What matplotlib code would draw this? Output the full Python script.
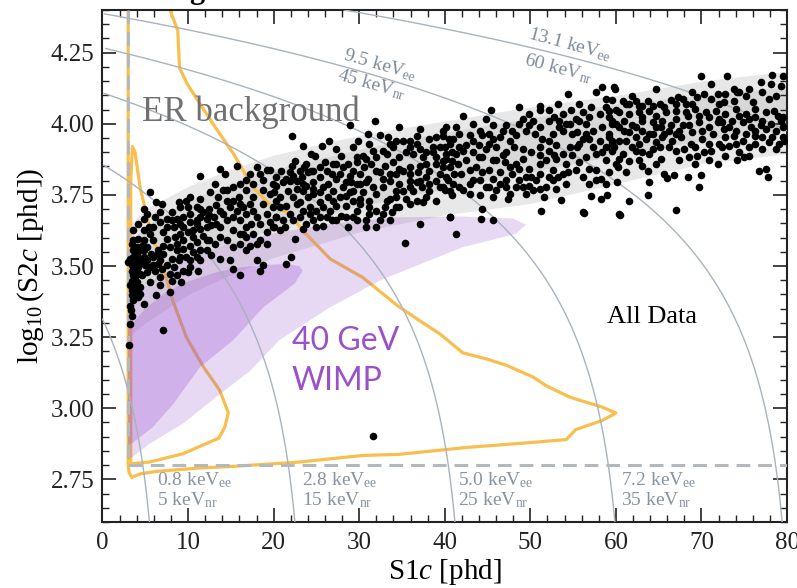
import numpy as np
import matplotlib
matplotlib.use("Agg")
import matplotlib.pyplot as plt
from matplotlib.ticker import MultipleLocator

plt.rcParams['font.family'] = ['Liberation Serif', 'DejaVu Serif']
plt.rcParams['mathtext.fontset'] = 'custom'
plt.rcParams['mathtext.rm'] = 'Liberation Serif'
plt.rcParams['mathtext.it'] = 'Liberation Serif:italic'
plt.rcParams['mathtext.bf'] = 'Liberation Serif:bold'

# ---------------- data ----------------
# energy contours (keVee / keVnr) and detector conversion (phd per keV)
energy_ee = [0.8, 2.8, 5.0, 7.2, 9.5, 13.1]
energy_nr = [5, 15, 25, 35, 45, 60]
g1_per_keV = 8.5      # S1 phd per keV
g2_per_keV = 2570.0   # S2 phd per keV

# ER background band (S1c, log10 S2c)
er_s1 = [3, 5, 10, 15, 20, 30, 40, 50, 60, 70, 80]
er_outer_hi = [3.64, 3.70, 3.78, 3.84, 3.89, 3.96, 4.01, 4.06, 4.10, 4.15, 4.185]
er_outer_lo = [3.25, 3.30, 3.40, 3.47, 3.53, 3.62, 3.68, 3.72, 3.79, 3.86, 3.895]
er_inner_hi = [3.58, 3.64, 3.73, 3.79, 3.84, 3.91, 3.97, 4.02, 4.07, 4.10, 4.13]
er_inner_lo = [3.38, 3.43, 3.52, 3.58, 3.63, 3.71, 3.77, 3.83, 3.89, 3.94, 3.98]

# 40 GeV WIMP regions (outline S1c, log10 S2c)
wimp_outer_s1 = [3.0, 6, 10, 15, 20, 26.6, 34.3, 42, 48, 49.5,
                 48.3, 42.1, 38.2, 32.4, 26.6, 20.7, 17.2, 13.3, 9.4, 5.5, 3.6, 3.0]
wimp_outer_s2 = [3.38, 3.45, 3.52, 3.58, 3.615, 3.648, 3.671, 3.674, 3.667, 3.645,
                 3.613, 3.566, 3.519, 3.449, 3.355, 3.24, 3.13, 3.04, 2.946, 2.875, 2.83, 2.82]
wimp_inner_s1 = [3.0, 5, 7.5, 10, 13.3, 16, 18.8, 21.5, 23.0, 23.4,
                 22.5, 21.9, 18.8, 15.3, 11.4, 8.3, 5.9, 3.6, 3.0]
wimp_inner_s2 = [3.28, 3.35, 3.41, 3.445, 3.478, 3.495, 3.503, 3.507, 3.50, 3.484,
                 3.44, 3.425, 3.355, 3.24, 3.145, 3.016, 2.934, 2.88, 2.87]

# yellow contour (outer and inner traces)
yel_outer_s1 = [3.0, 3.0, 3.1, 3.4, 4.5, 6.3, 11.4, 14.9, 22.7, 30.4, 34.7, 42.5, 50.3, 54.2,
                55.3, 58.4, 60.0, 58.4, 54.6, 51.8, 50.3, 47.2, 44.8, 42.1, 39.4, 37.0,
                34.5, 30.4, 26.6, 23.4, 21.9, 19.4, 17.6, 15.3, 12.9, 11.4, 9.9, 9.0, 8.8, 7.9]
yel_outer_s2 = [4.40, 2.80, 2.775, 2.757, 2.77, 2.778, 2.79, 2.795, 2.81, 2.834, 2.838, 2.862, 2.88, 2.89,
                2.925, 2.957, 2.983, 3.004, 3.039, 3.08, 3.11, 3.151, 3.174, 3.195, 3.262, 3.309,
                3.36, 3.46, 3.525, 3.625, 3.683, 3.72, 3.776, 3.895, 4.0, 4.07, 4.14, 4.197, 4.327, 4.40]
yel_inner_s1 = [3.3, 3.3, 3.5, 3.8, 4.4, 5.5, 7.1, 8.2, 9.8, 11.8, 13.7, 14.7, 14.3, 13.6,
                9.4, 5.5, 3.4, 3.3]
yel_inner_s2 = [2.81, 3.80, 3.92, 3.90, 3.776, 3.635, 3.495, 3.38, 3.25, 3.145, 3.063, 2.985, 2.934, 2.895,
                2.84, 2.811, 2.805, 2.81]

# analysis thresholds
s1_threshold = 3.0
log_s2_threshold = 2.8

# observed events (S1c [phd], log10 S2c [phd])
events = [
    (11.4,3.818),(13.7,3.842),(15.7,3.853),(14.3,3.824),(13.1,3.789),(14.5,3.766),(5.5,3.760),(6.3,3.724),
    (6.9,3.719),(4.8,3.701),(6.7,3.689),(5.2,3.684),(8.1,3.689),(9.0,3.707),(10.0,3.707),(10.2,3.742),
    (11.4,3.736),(12.4,3.701),(13.3,3.713),(12.5,3.678),(11.4,3.672),(9.4,3.672),(8.7,3.666),(8.1,3.660),
    (6.1,3.672),(5.4,3.637),(5.5,3.613),(4.2,3.596),(4.8,3.590),(3.6,3.625),(7.1,3.619),(5.9,3.590),
    (7.5,3.596),(8.5,3.602),(9.0,3.613),(10.0,3.619),(10.6,3.625),(11.4,3.631),(12.2,3.637),(12.7,3.643),
    (13.3,3.648),(11.8,3.607),(12.5,3.590),(11.0,3.584),(10.2,3.572),(9.4,3.561),(8.7,3.555),(7.9,3.566),
    (7.1,3.572),(6.5,3.555),(5.2,3.566),(4.4,3.555),(3.8,3.537),(3.2,3.525),(3.0,3.514),(3.6,3.502),
    (4.2,3.496),(5.0,3.502),(5.5,3.496),(6.5,3.508),(6.9,3.490),(7.5,3.502),(6.1,3.484),(5.2,3.479),
    (4.4,3.473),(3.8,3.461),(3.4,3.449),(3.2,3.432),(3.6,3.426),(4.0,3.414),(4.4,3.402),(3.4,3.397),
    (3.6,3.379),(3.2,3.361),(3.3,3.344),(3.4,3.326),(3.2,3.297),(3.1,3.221),(7.1,3.274),(7.9,3.408),
    (6.3,3.397),(6.7,3.432),(8.1,3.449),(9.2,3.443),(10.0,3.479),(11.2,3.484),(12.7,3.537),(13.7,3.525),
    (14.9,3.520),(15.3,3.490),(16.1,3.467),(18.0,3.520),(18.8,3.502),(18.4,3.484),(15.3,3.566),(16.1,3.578),
    (14.5,3.590),(13.7,3.602),(15.3,3.625),(16.1,3.613),(16.8,3.602),(17.6,3.613),(18.4,3.590),(19.2,3.619),
    (19.9,3.637),(13.7,3.637),(14.5,3.660),(15.3,3.672),(15.7,3.695),(16.4,3.707),(17.2,3.719),(14.5,3.730),
    (15.3,3.730),(16.0,3.742),(16.8,3.766),(17.6,3.789),(18.4,3.824),(19.2,3.836),(19.9,3.789),(20.3,3.730),
    (19.2,3.684),(19.6,3.654),(20.3,3.672),(18.0,3.672),(17.4,3.648),(16.8,3.637),(13.1,3.578),(9.0,3.531),
    (10.2,3.520),(11.4,3.555),(10.6,3.549),(8.1,3.525),(5.9,3.531),(6.5,3.543),(4.8,3.531),(3.6,3.555),
    (3.4,3.484),(4.0,3.543),(4.6,3.572),(3.6,3.590),(4.0,3.520),(4.6,3.514),(5.9,3.502),(3.8,3.443),
    (4.2,3.391),(4.8,3.367),(6.7,3.461),(7.9,3.473),(8.7,3.467),(9.4,3.484),(10.2,3.496),(11.4,3.520),
    (9.4,3.637),(10.2,3.654),(11.0,3.660),(12.2,3.666),(8.9,3.724),(9.8,3.730),(11.0,3.707),(11.8,3.689),
    (13.7,3.695),(12.6,3.760),(13.5,3.742),(16.8,3.801),(17.6,3.742),(18.8,3.766),(19.6,3.754),(18.8,3.719),
    (19.9,3.707),(16.8,3.684),(16.1,3.660),(18.4,3.648),(19.2,3.578),(17.2,3.572),
    (3.4,3.578),(4.0,3.566),(4.8,3.555),(3.6,3.531),(4.2,3.525),(5.2,3.520),(3.4,3.502),(4.0,3.484),
    (4.6,3.467),(3.6,3.467),(4.0,3.443),(3.4,3.414),(3.8,3.402),(4.4,3.426),(5.5,3.443),(5.7,3.543),
    (7.1,3.543),(6.7,3.520),(8.3,3.496),(8.9,3.520),(9.8,3.531),(11.0,3.531),(12.2,3.555),(12.2,3.590),
    (10.6,3.602),(9.4,3.590),(8.7,3.578),(7.5,3.637),(8.3,3.637),(6.7,3.654),(5.9,3.637),(4.8,3.625),
    (4.2,3.648),(4.8,3.666),(7.5,3.666),(9.0,3.648),(11.0,3.648),(10.2,3.684),(11.4,3.701),(13.0,3.672),
    (14.1,3.684),(14.9,3.707),(16.1,3.719),(14.1,3.766),(15.3,3.777),(16.1,3.789),(17.2,3.824),(18.0,3.847),
    (19.6,3.836),(18.8,3.801),(17.6,3.695),(16.4,3.613),(18.0,3.578),(16.8,3.555),
    (22.2,3.958),(28.9,3.997),(31.8,4.011),(34.7,3.988),(37.1,3.982),(40.2,3.988),(31.0,3.964),(32.4,3.962),
    (33.4,3.955),(35.9,3.941),(36.7,3.929),(38.2,3.947),(39.0,3.952),(39.8,3.958),(41.0,3.947),(25.6,3.923),
    (26.5,3.941),(27.3,3.911),(29.3,3.917),(29.9,3.941),(31.2,3.929),(31.6,3.906),(30.5,3.888),(24.4,3.894),
    (24.8,3.888),(23.6,3.847),(24.0,3.830),(24.6,3.835),(26.0,3.865),(26.2,3.835),(26.8,3.824),(27.7,3.824),
    (28.7,3.859),(28.9,3.818),(22.1,3.853),(20.9,3.835),(21.1,3.794),(21.9,3.800),(20.3,3.783),(20.0,3.759),
    (21.7,3.765),(22.7,3.771),(23.4,3.765),(24.0,3.742),(24.6,3.753),(25.4,3.759),(26.4,3.789),(27.3,3.806),
    (28.1,3.777),(29.1,3.794),(30.1,3.789),(31.0,3.806),(32.0,3.835),(33.0,3.853),(33.9,3.865),(34.7,3.882),
    (35.5,3.900),(36.3,3.894),(37.5,3.882),(38.6,3.900),(39.8,3.870),(40.6,3.847),(41.3,3.894),(41.0,3.789),
    (39.8,3.777),(39.0,3.800),(37.8,3.812),(36.9,3.830),(35.9,3.800),(35.1,3.765),(34.3,3.742),(35.5,3.736),
    (36.7,3.730),(37.5,3.724),(39.0,3.730),(40.6,3.671),(41.3,3.613),(37.1,3.648),(35.3,3.580),(32.4,3.660),
    (32.8,3.683),(31.2,3.683),(30.8,3.660),(29.7,3.695),(30.1,3.718),(29.3,3.730),(28.5,3.712),(27.3,3.712),
    (26.6,3.695),(26.2,3.671),(26.8,3.660),(25.8,3.642),(25.0,3.636),(24.6,3.660),(23.8,3.648),(23.4,3.630),
    (22.5,3.595),(22.0,3.533),(21.4,3.508),(28.7,3.636),(30.8,3.636),(33.0,3.707),(33.6,3.736),(32.0,3.753),
    (31.2,3.730),(32.8,3.777),(33.6,3.800),(34.3,3.824),(35.1,3.835),(33.2,3.894),(33.9,3.917),(34.3,3.941),
    (37.8,3.859),(39.0,3.859),(40.2,3.812),(38.2,3.765),(37.3,3.777),(36.3,3.765),(25.4,3.724),(25.0,3.695),
    (23.4,3.695),(22.7,3.718),(21.5,3.712),(20.7,3.707),(20.3,3.671),(21.1,3.660),(21.9,3.683),(20.1,3.636),
    (21.3,3.636),(23.1,3.671),(23.8,3.783),(24.6,3.794),(25.4,3.812),(23.3,3.812),(22.3,3.818),(22.5,3.870),
    (23.4,3.923),(24.4,3.835),(27.3,3.859),(27.9,3.888),(29.7,3.882),(30.6,3.847),(31.4,3.859),(32.4,3.830),
    (30.1,3.824),(29.3,3.765),(30.5,3.759),(28.5,3.747),(26.4,3.742),(27.9,3.677),(29.3,3.671),(33.8,3.689),
    (34.3,3.707),(36.7,3.794),(38.2,3.835),(39.4,3.824),(40.8,3.870),(35.9,3.847),(34.7,3.789),(38.6,3.917),
    (36.7,3.958),
    (20.3,3.812),(21.5,3.806),(20.7,3.742),(22.3,3.742),(23.1,3.724),(24.2,3.707),(25.8,3.707),(26.9,3.730),
    (27.7,3.742),(26.9,3.765),(25.8,3.777),(24.6,3.771),(23.4,3.789),(22.7,3.800),(21.9,3.830),(23.1,3.835),
    (23.8,3.859),(25.4,3.847),(26.9,3.859),(28.1,3.847),(29.3,3.835),(29.7,3.865),(30.8,3.876),(32.0,3.882),
    (32.8,3.906),(33.6,3.929),(35.1,3.941),(35.9,3.917),(37.1,3.911),(37.8,3.900),(39.4,3.917),(40.6,3.929),
    (40.2,3.894),(39.0,3.882),(37.1,3.853),(35.9,3.824),(34.7,3.841),(33.6,3.824),(32.8,3.806),(31.6,3.777),
    (30.8,3.794),(29.7,3.789),(28.5,3.794),(28.9,3.759),(30.1,3.736),(31.2,3.707),(32.0,3.695),(33.2,3.730),
    (34.3,3.765),(35.9,3.777),(37.1,3.800),(38.2,3.789),(39.4,3.777),(40.6,3.765),(37.8,3.742),(35.9,3.718),
    (34.7,3.707),(33.6,3.660),(32.0,3.636),(29.7,3.660),(28.5,3.671),(27.3,3.660),(25.4,3.671),(24.2,3.683),
    (22.3,3.660),(20.7,3.625),
    (42.1,4.029),(45.4,4.047),(48.7,4.058),(49.9,4.035),(51.1,4.064),(51.1,4.047),(53.2,4.070),(54.4,4.105),
    (55.7,4.070),(57.7,4.111),(58.4,4.129),(59.8,4.129),(58.8,4.088),(43.3,3.999),(44.8,4.017),(45.6,3.994),
    (47.2,3.994),(48.7,4.000),(49.9,3.994),(51.1,3.988),(52.2,4.011),(52.8,4.023),(53.8,4.035),(54.8,4.047),
    (56.1,4.041),(57.1,4.058),(58.1,4.035),(59.2,4.023),(60.0,4.047),(41.7,3.965),(42.9,3.959),(44.1,3.976),
    (45.2,3.965),(46.4,3.953),(47.6,3.941),(48.3,3.959),(49.5,3.976),(50.5,3.965),(51.4,3.947),(52.6,3.965),
    (53.4,3.988),(54.6,4.000),(55.3,4.017),(56.5,4.000),(57.3,3.976),(58.4,3.988),(59.6,4.000),(59.2,3.953),
    (58.1,3.941),(56.9,3.947),(55.7,3.930),(54.6,3.918),(53.8,3.894),(53.0,3.877),(52.2,3.906),(51.1,3.918),
    (50.1,3.900),(49.1,3.912),(48.1,3.918),(47.2,3.900),(46.0,3.918),(44.8,3.912),(44.0,3.883),(43.3,3.900),
    (42.5,3.871),(41.5,3.859),(42.9,3.836),(43.3,3.801),(44.4,3.830),(45.6,3.807),(46.4,3.789),(47.2,3.801),
    (47.9,3.824),(48.7,3.801),(49.9,3.842),(51.1,3.859),(51.8,3.871),(52.8,3.889),(54.2,3.859),(55.3,3.836),
    (54.4,3.830),(54.2,3.789),(53.0,3.771),(51.8,3.777),(51.1,3.771),(49.9,3.783),(49.1,3.777),(47.6,3.754),
    (47.4,3.736),(45.6,3.742),(44.1,3.748),(42.9,3.754),(41.7,3.777),(44.4,3.701),(44.2,3.666),(45.6,3.660),
    (51.2,3.695),(51.6,3.742),(53.6,3.733),(56.1,3.690),(57.1,3.745),(58.3,3.736),(59.0,3.748),(56.5,3.883),
    (57.7,3.894),(58.8,3.918),(59.6,3.906),(57.7,3.836),(58.3,3.807),(59.2,3.830),(55.5,3.918),(56.5,3.965),
    (55.5,3.971),(52.2,4.047),(53.8,3.976),(49.1,3.877),(48.3,3.859),(47.0,3.865),(46.0,3.871),(45.2,3.836),
    (43.7,3.848),(41.7,3.918),(41.3,3.988),(52.6,3.836),(51.1,3.824),(50.1,3.813),(53.2,3.813),(45.2,3.777),
    (48.3,3.777),(56.3,3.688),(60.4,3.684),(40.6,3.674),
    (39.8,3.976),(40.5,3.947),(40.0,3.918),(40.9,3.900),(40.2,3.877),(39.8,3.848),(41.1,3.824),(40.4,3.801),
    (40.0,3.766),(40.9,3.748),(42.1,3.766),(44.0,3.924),(45.2,3.930),(44.4,3.883),(45.6,3.871),(46.8,3.889),
    (47.6,3.848),(46.4,3.830),(48.7,3.842),(49.5,3.812),(50.7,3.801),(52.2,3.812),(51.1,3.889),(52.2,3.941),
    (53.0,3.924),(54.9,3.965),(56.1,3.947),(57.3,3.918),(58.4,3.900),(59.6,3.941),(58.8,3.871),(56.9,3.842),
    (55.7,3.865),(54.9,3.889),(54.2,4.000),(53.4,4.011),(55.7,4.011),(56.9,4.023),(58.8,4.058),(59.6,4.082),
    (50.3,4.011),(49.1,4.017),(47.9,3.976),(46.8,3.976),(45.6,3.947),(44.4,3.959),(43.3,3.941),(42.5,3.924),
    (42.1,3.906),(41.9,3.824),(42.9,3.789),(44.1,3.801),(44.8,3.777),(46.0,3.766),(47.2,3.777),(49.5,3.754),
    (50.3,3.766),(52.6,3.801),(53.8,3.824),(56.1,3.812),(56.9,3.789),(57.7,3.801),(58.8,3.789),(60.0,3.859),
    (59.9,4.122),(61.9,4.099),(64.7,4.122),(69.9,4.169),(73.0,4.167),(78.3,4.171),(79.5,4.169),(71.1,4.140),
    (73.8,4.122),(76.9,4.146),(78.1,4.140),(61.2,4.070),(62.3,4.081),(63.1,4.064),(63.7,4.081),(65.1,4.070),
    (65.6,4.058),(66.4,4.084),(67.2,4.095),(67.8,4.087),(68.9,4.111),(69.5,4.093),(70.3,4.105),(71.1,4.087),
    (72.1,4.070),(72.6,4.075),(73.8,4.081),(74.4,4.111),(75.2,4.099),(75.6,4.122),(76.0,4.075),(77.1,4.111),
    (77.9,4.087),(78.7,4.099),(79.3,4.134),(60.4,4.040),(61.5,4.034),(62.7,4.040),(63.9,4.046),(64.7,4.029),
    (65.8,4.040),(67.0,4.046),(68.2,4.040),(69.3,4.052),(70.5,4.040),(71.7,4.046),(72.8,4.034),(74.0,4.052),
    (75.2,4.034),(76.3,4.023),(77.5,4.040),(78.5,4.046),(79.5,4.023),(60.0,3.999),(61.0,4.011),(61.9,3.994),
    (63.1,3.976),(64.3,4.005),(65.3,3.988),(66.4,3.994),(67.4,3.976),(68.6,3.994),(69.7,4.005),(70.9,3.988),
    (71.9,4.005),(72.6,3.982),(73.6,4.011),(74.8,4.005),(75.8,3.988),(76.9,3.994),(78.1,3.999),(79.3,4.011),
    (79.5,3.952),(78.3,3.952),(77.1,3.952),(76.3,3.958),(74.8,3.941),(73.8,3.958),(72.8,3.952),(72.1,3.929),
    (71.1,3.906),(70.1,3.947),(68.8,3.929),(67.6,3.952),(66.6,3.941),(65.6,3.964),(64.7,3.935),(63.5,3.947),
    (62.3,3.952),(61.2,3.941),(59.8,3.917),(60.8,3.894),(61.9,3.917),(63.1,3.900),(64.3,3.911),(65.3,3.876),
    (66.2,3.917),(68.6,3.882),(69.5,3.888),(70.3,3.900),(71.9,3.859),(74.4,3.900),(75.0,3.882),(75.6,3.917),
    (61.5,3.870),(63.1,3.853),(63.7,3.835),(60.2,3.847),(65.6,3.824),(66.0,3.810),(66.8,3.821),(68.4,3.812),
    (69.9,3.821),(69.7,3.777),(63.9,3.794),(60.1,3.794),(61.5,3.730),(63.7,3.751),(67.0,3.697),(60.5,3.681),
    (76.7,3.833),(77.5,3.841),(77.8,3.814),(74.1,3.873),(74.2,4.111),(76.3,4.052),(72.8,4.105),(71.9,4.105),
    (68.4,4.029),(67.0,4.017),(65.4,4.011),(63.1,4.011),(61.5,3.970),(64.3,3.964),(62.7,3.929),(68.0,3.911),
    (73.2,3.923),(77.1,3.911),(78.7,3.911),(79.6,3.941),
    (59.2,4.046),(59.6,4.011),(60.4,3.988),(59.2,3.964),(59.6,3.929),(60.4,3.941),(61.0,3.976),(62.3,3.988),
    (63.1,4.023),(63.9,3.964),(64.7,3.988),(65.4,3.952),(66.2,3.976),(67.0,3.964),(67.8,3.994),(68.9,3.970),
    (70.1,3.976),(71.3,3.964),(72.4,4.005),(73.2,3.988),(74.0,3.976),(75.2,3.964),(76.3,3.976),(77.5,3.982),
    (78.7,3.976),(79.5,3.988),(78.9,4.029),(77.1,4.011),(75.6,4.017),(74.4,4.029),(72.1,4.017),(70.9,4.023),
    (69.7,4.029),(68.9,4.070),(68.2,4.070),(67.0,4.070),(64.3,4.064),(62.7,4.064),(61.5,4.070),(60.8,4.081),
    (62.3,3.906),(63.9,3.894),(65.1,3.917),(67.0,3.906),(69.3,3.917),(70.9,3.929),(72.4,3.917),(74.0,3.929),
    (76.3,3.929),(77.9,3.935),(79.1,3.929),(62.7,3.871),(64.7,3.859),(67.4,3.871),(69.3,3.859),(70.9,3.871),
    (72.8,3.888),(75.6,3.888),(60.4,3.876),(61.2,3.830),
    (31.6,2.904),
]
event_s1 = [e[0] for e in events]
event_log_s2 = [e[1] for e in events]

x_ticks = [0, 10, 20, 30, 40, 50, 60, 70, 80]
y_ticks = [2.75, 3.00, 3.25, 3.50, 3.75, 4.00, 4.25]

# ---------------- figure ----------------
fig = plt.figure(figsize=(7.97, 5.88), dpi=100)
ax = fig.add_axes([0.1286, 0.1122, 0.8589, 0.8708])
ax.set_xlim(0, 80)
ax.set_ylim(2.6, 4.4)

# ER band
ax.fill_between(er_s1, er_outer_lo, er_outer_hi, color='#e8e8e8', lw=0, zorder=1)
ax.fill_between(er_s1, er_inner_lo, er_inner_hi, color='#d8d8d8', lw=0, zorder=1.1)

# yellow contour
ycol = '#f8be4e'
ax.plot(yel_outer_s1, yel_outer_s2, color=ycol, lw=2.3, zorder=2, solid_joinstyle='round')
ax.plot(yel_inner_s1, yel_inner_s2, color=ycol, lw=2.3, zorder=2, solid_joinstyle='round')

# WIMP regions
ax.fill(wimp_outer_s1, wimp_outer_s2, color='#9b59d0', alpha=0.23, lw=0, zorder=3)
ax.fill(wimp_inner_s1, wimp_inner_s2, color='#9b59d0', alpha=0.30, lw=0, zorder=3.1)

# energy contours
log_s2_grid = np.linspace(2.6, 4.4, 400)
for E in energy_ee:
    s1_curve = g1_per_keV * (E - 10 ** log_s2_grid / g2_per_keV)
    keep = s1_curve >= 0
    ax.plot(s1_curve[keep], log_s2_grid[keep], color='#a9b3bd', lw=1.0, zorder=3.5)

# thresholds
ax.plot([s1_threshold, s1_threshold, 80], [4.4, log_s2_threshold, log_s2_threshold],
        color='#b3b8be', lw=2.2, dashes=(4.5, 2.6), zorder=4)

# events
ax.scatter(event_s1, event_log_s2, s=30, color='black', lw=0, zorder=5)

# energy labels
lab_col = '#8893a0'
bottom_label_x = [6.36, 23.3, 41.5, 60.6]
for xl, ee, nr in zip(bottom_label_x, energy_ee[:4], energy_nr[:4]):
    ax.text(xl, 2.729, f'{ee:.1f} keV' + r'$_{\mathrm{ee}}$', color=lab_col, fontsize=14,
            ha='left', va='baseline', zorder=6)
    ax.text(xl, 2.659, f'{nr} keV' + r'$_{\mathrm{nr}}$', color=lab_col, fontsize=14,
            ha='left', va='baseline', zorder=6)

top_col = '#7d8b99'
ax.text(32.4, 4.208, '9.5 keV' + r'$_{\mathrm{ee}}$', color=top_col, fontsize=14, rotation=-16,
        rotation_mode='anchor', ha='center', va='center', zorder=6)
ax.text(31.4, 4.138, '45 keV' + r'$_{\mathrm{nr}}$', color=top_col, fontsize=14, rotation=-16,
        rotation_mode='anchor', ha='center', va='center', zorder=6)
ax.text(54.6, 4.278, '13.1 keV' + r'$_{\mathrm{ee}}$', color=top_col, fontsize=14, rotation=-15,
        rotation_mode='anchor', ha='center', va='center', zorder=6)
ax.text(53.3, 4.194, '60 keV' + r'$_{\mathrm{nr}}$', color=top_col, fontsize=14, rotation=-15,
        rotation_mode='anchor', ha='center', va='center', zorder=6)

# annotations
ax.text(4.6, 4.011, 'ER background', color='#707070', fontsize=25, ha='left', va='baseline', zorder=6)
ax.text(22.1, 3.203, '40 GeV', color='#9a52c9', fontsize=23, family=['Lato', 'DejaVu Sans'],
        ha='left', va='baseline', zorder=6)
ax.text(22.1, 3.063, 'WIMP', color='#9a52c9', fontsize=23, family=['Lato', 'DejaVu Sans'],
        ha='left', va='baseline', zorder=6)
ax.text(59.0, 3.298, 'All Data', color='black', fontsize=19, ha='left', va='baseline', zorder=6)

# cropped title fragment at the top edge
fig.text(197 / 797, 1.004, 'g', fontsize=22, fontweight='bold', ha='center', va='baseline')

# axes styling
ax.set_xticks(x_ticks)
ax.set_yticks(y_ticks)
ax.set_yticklabels([f'{v:.2f}' for v in y_ticks])
ax.xaxis.set_minor_locator(MultipleLocator(2))
ax.yaxis.set_minor_locator(MultipleLocator(0.05))
ax.tick_params(which='both', direction='in', top=True, right=True, labelsize=18, colors='#222222')
ax.tick_params(which='major', length=10, width=1.2)
ax.tick_params(which='minor', length=5, width=1.0)
ax.tick_params(axis='x', pad=7)
ax.tick_params(axis='y', pad=6)
for sp in ax.spines.values():
    sp.set_linewidth(1.5)
    sp.set_color('#222222')

ax.set_xlabel(r'S1$c$ [phd]', fontsize=21, labelpad=2)
ax.set_ylabel(r'$\log_{10}$(S2$c$ [phd])', fontsize=21, labelpad=3)

fig.savefig('out.png', dpi=100)
